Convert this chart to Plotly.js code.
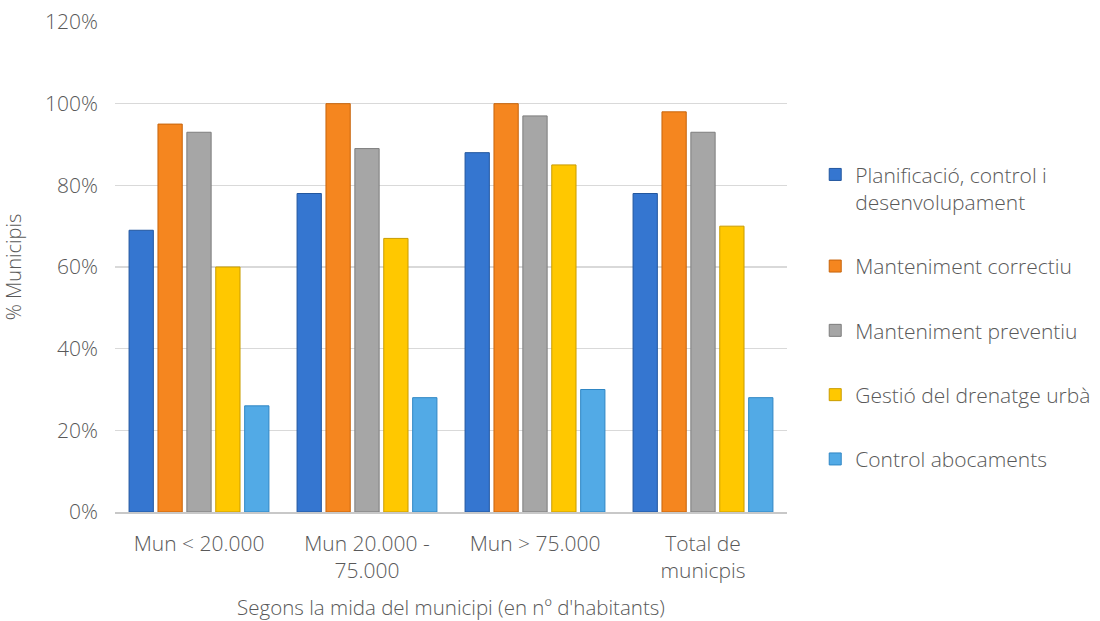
<!DOCTYPE html>
<html>
<head>
<meta charset="utf-8">
<script src="https://cdn.plot.ly/plotly-3.0.1.min.js"></script>
<style>
  html, body { margin: 0; padding: 0; background: #ffffff; }
  #chart { width: 1100px; height: 621px; }
</style>
</head>
<body>
<div id="chart"></div>
<script>
// Municipality size groups (x axis)
var categories = ["Mun < 20.000", "Mun 20.000 -<br>75.000", "Mun > 75.000", "Total de<br>municpis"];

// Share of municipalities doing each task (%)
var planificacio = [69, 78, 88, 78];
var mantCorrectiu = [95, 100, 100, 98];
var mantPreventiu = [93, 89, 97, 93];
var gestioDrenatge = [60, 67, 85, 70];
var controlAbocaments = [26, 28, 30, 28];

var seriesNames = [
  "Planificació, control i<br>desenvolupament",
  "Manteniment correctiu",
  "Manteniment preventiu",
  "Gestió del drenatge urbà",
  "Control abocaments"
];

var yTicks = [0, 20, 40, 60, 80, 100, 120];
var yTickText = ["0%", "20%", "40%", "60%", "80%", "100%", "120%"];

var seriesValues = [planificacio, mantCorrectiu, mantPreventiu, gestioDrenatge, controlAbocaments];
var fills = ["#3576d0", "#f5861f", "#a6a6a6", "#ffc800", "#52aae6"];
var edges = ["#22569e", "#c7640c", "#7d7d7d", "#c99c00", "#2f86c4"];

var textColor = "#595959";
var fontFamily = "'Open Sans', 'Noto Sans', sans-serif";

var traces = seriesValues.map(function (vals, i) {
  return {
    type: "bar",
    name: seriesNames[i],
    x: categories,
    y: vals,
    legendgroup: "g" + i,
    marker: { color: fills[i], line: { color: edges[i], width: 1 } },
    hoverinfo: "x+y+name"
  };
});

var layout = {
  width: 1100,
  height: 621,
  paper_bgcolor: "#ffffff",
  plot_bgcolor: "#ffffff",
  margin: { l: 115, r: 313, t: 22, b: 109, autoexpand: false },
  barmode: "group",
  bargap: 0.14,
  bargroupgap: 0.16,
  font: { family: fontFamily, color: textColor, size: 21, weight: 300 },
  xaxis: {
    type: "category",
    tickfont: { size: 21, color: textColor, weight: 300 },
    showline: true,
    linecolor: "#c8c8c8",
    linewidth: 1.5,
    ticks: "",
    ticklabelstandoff: 12,
    title: { text: "Segons la mida del municipi (en nº d'habitants)", font: { size: 20.5, color: textColor, weight: 300 }, standoff: 22 }
  },
  yaxis: {
    range: [0, 120],
    tickvals: yTicks,
    ticktext: yTickText,
    tickfont: { size: 21, color: textColor, weight: 300 },
    showgrid: true,
    gridcolor: "#d9d9d9",
    gridwidth: 1.5,
    zeroline: false,
    showline: false,
    ticks: "",
    ticklen: 0,
    ticklabelstandoff: 16,
    automargin: false,
    title: { text: "% Municipis", font: { size: 20, color: textColor, weight: 300 }, standoff: 36 }
  },
  legend: {
    x: 1.042,
    xanchor: "left",
    y: 0.73,
    yanchor: "top",
    valign: "top",
    font: { size: 21, color: textColor, weight: 300 },
    tracegroupgap: 34,
    itemwidth: 30,
    bgcolor: "rgba(0,0,0,0)"
  },
  showlegend: true
};

Plotly.newPlot("chart", traces, layout, { displayModeBar: false, staticPlot: true });
</script>
</body>
</html>
